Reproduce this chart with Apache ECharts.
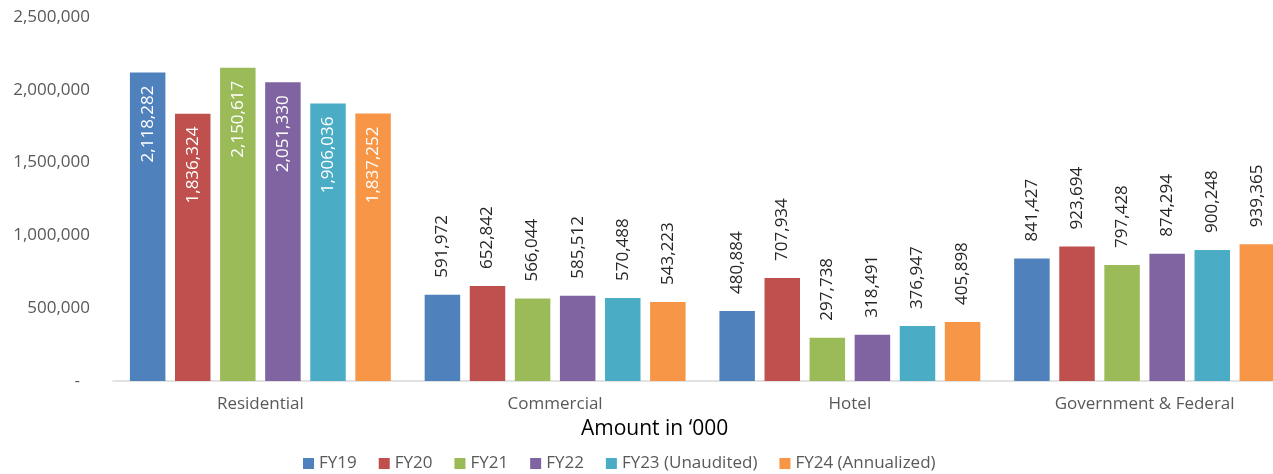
<!DOCTYPE html>
<html>
<head>
<meta charset="utf-8">
<script src="https://cdn.jsdelivr.net/npm/echarts@6/dist/echarts.min.js"></script>
<style>
  html, body { margin: 0; padding: 0; background: #fff; overflow: hidden; }
  #wrap { width: 1273px; height: 474px; overflow: hidden; }
  #chart { width: 1292px; height: 474px; }
</style>
</head>
<body>
<div id="wrap"><div id="chart"></div></div>
<script>
// Loan amounts by sector, in thousands
const categories = ['Residential', 'Commercial', 'Hotel', 'Government & Federal'];
const seriesNames = ['FY19', 'FY20', 'FY21', 'FY22', 'FY23 (Unaudited)', 'FY24 (Annualized)'];
const fy19 = [2118282, 591972, 480884, 841427];
const fy20 = [1836324, 652842, 707934, 923694];
const fy21 = [2150617, 566044, 297738, 797428];
const fy22 = [2051330, 585512, 318491, 874294];
const fy23 = [1906036, 570488, 376947, 900248];
const fy24 = [1837252, 543223, 405898, 939365];
const yTicks = [0, 500000, 1000000, 1500000, 2000000, 2500000];
const colors = ['#4F81BD', '#C0504D', '#9BBB59', '#8064A2', '#4BACC6', '#F79646'];

const FONT = '"Open Sans", sans-serif';
const fmt = v => v.toLocaleString('en-US');

// Tall bars carry their value inside, the rest above the bar
function buildData(values) {
  return values.map((v, i) => {
    if (i === 0) {
      return {
        value: v,
        label: {
          position: 'insideTop',
          align: 'right',
          distance: 13,
          color: '#ffffff'
        }
      };
    }
    return v;
  });
}

const allValues = [fy19, fy20, fy21, fy22, fy23, fy24];

const chart = echarts.init(document.getElementById('chart'), null, { renderer: 'canvas' });

chart.setOption({
  animation: false,
  color: colors,
  textStyle: { fontFamily: FONT },
  title: {
    text: 'Amount in \u2018000',
    left: 576,
    top: 414,
    textStyle: { fontFamily: FONT, fontSize: 21, fontWeight: 'normal', color: '#000000' }
  },
  legend: {
    data: seriesNames,
    left: 298,
    top: 450,
    itemWidth: 11,
    itemHeight: 11,
    itemGap: 22,
    icon: 'rect',
    textStyle: { fontFamily: FONT, fontSize: 17, color: '#595959' }
  },
  grid: { left: 113, right: 0, top: 17, bottom: 93, containLabel: false },
  xAxis: {
    type: 'category',
    data: categories,
    axisLine: { lineStyle: { color: '#d9d9d9', width: 1.5 } },
    axisTick: { show: false },
    axisLabel: { fontFamily: FONT, fontSize: 17, color: '#595959', margin: 15 }
  },
  yAxis: {
    type: 'value',
    min: yTicks[0],
    max: yTicks[yTicks.length - 1],
    interval: yTicks[1] - yTicks[0],
    splitLine: { show: false },
    axisLine: { show: false },
    axisTick: { show: false },
    axisLabel: {
      fontFamily: FONT,
      fontSize: 17,
      color: '#595959',
      margin: 23,
      formatter: v => v === 0 ? '{z|-}' : fmt(v),
      rich: { z: { fontFamily: FONT, fontSize: 17, color: '#595959', padding: [0, 10, 0, 0] } }
    }
  },
  series: seriesNames.map((name, k) => ({
    name,
    type: 'bar',
    data: buildData(allValues[k]),
    barWidth: 35.5,
    barGap: '27%',
    itemStyle: { color: colors[k] },
    label: {
      show: true,
      position: 'top',
      rotate: 90,
      align: 'left',
      verticalAlign: 'middle',
      distance: 17,
      fontFamily: FONT,
      fontSize: 17,
      color: '#262626',
      formatter: p => fmt(p.value)
    }
  }))
});
</script>
</body>
</html>
